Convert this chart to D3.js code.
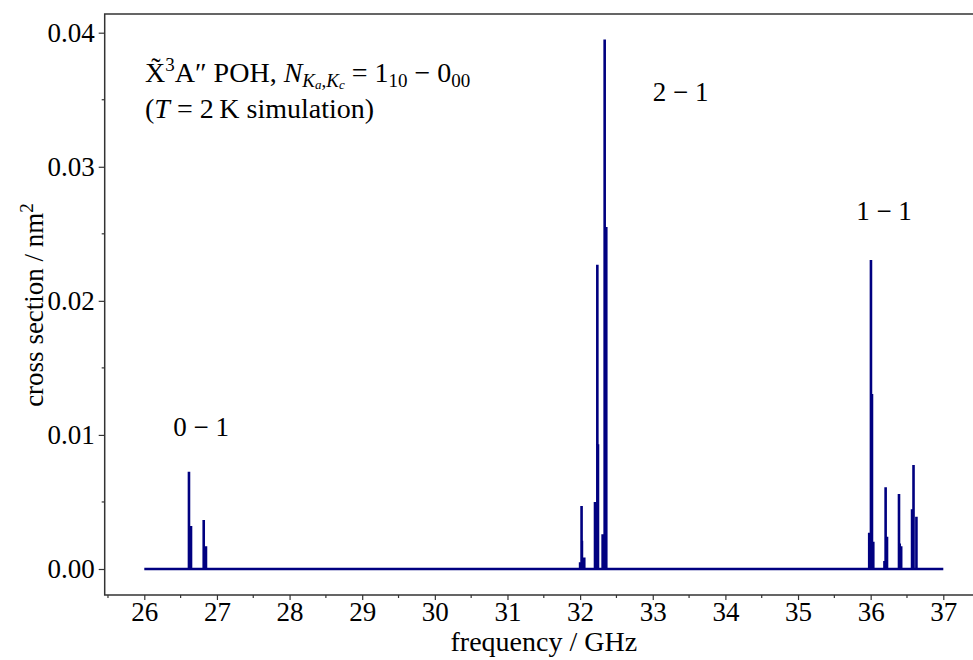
<!DOCTYPE html>
<html>
<head>
<meta charset="utf-8">
<script src="https://cdn.jsdelivr.net/npm/d3@7"></script>
<style>
  body { margin: 0; background: #fff; }
</style>
</head>
<body>
<svg id="chart" width="973" height="660"></svg>
<script>
// stick positions (GHz) and peak cross sections (nm^2)
var freqs = [26.615, 26.643, 26.818, 26.849,
             32.000, 32.020, 32.025, 32.057, 32.205, 32.237, 32.246, 32.310, 32.338, 32.360, 32.515,
             35.980, 36.004, 36.018, 36.036, 36.190, 36.206, 36.225, 36.390, 36.400, 36.420,
             36.570, 36.590, 36.630];
var heights = [0.00726, 0.0032, 0.00365, 0.0017,
               0.0005, 0.0047, 0.0021, 0.00086, 0.0050, 0.0227, 0.0093, 0.0026, 0.0395, 0.0255, 0.0001,
               0.0027, 0.02305, 0.01305, 0.00204, 0.0006, 0.0061, 0.0024, 0.0056, 0.0019, 0.0017,
               0.00445, 0.00776, 0.0039];
var freqRange = [26, 37];
var xTicks = d3.range(26, 38, 1);
var xMinor = d3.range(25.5, 37.5, 1);
var yTicks = [0, 0.01, 0.02, 0.03, 0.04];
var yMinor = [0.005, 0.015, 0.025, 0.035];
var bandLabels = ["0 \u2212 1", "2 \u2212 1", "1 \u2212 1"];
var bandPos = [[26.40, 0.0099], [33.0, 0.0349], [35.8, 0.0260]];

var FONT = "'Liberation Serif'";
var FS = 27, FT = 28, FSS = 19, FSSS = 13;
var svg = d3.select("#chart");
var frameL = 104.7, frameT = 14, frameB = 595, frameR = 975;

var x = d3.scaleLinear().domain([26, 37]).range([144.3, 943.3]);
var y = d3.scaleLinear().domain([0, 0.04]).range([569, 32.7]);

// frame (right edge sits just off the canvas)
svg.append("path")
  .attr("d", "M" + frameR + "," + frameT + "H" + frameL + "V" + frameB + "H" + frameR)
  .attr("fill", "none").attr("stroke", "#333").attr("stroke-width", 1.5);

// spectrum: baseline with sticks
var pts = [[freqRange[0], 0]];
freqs.forEach(function(f, i) {
  pts.push([f, 0], [f, heights[i]], [f, 0]);
});
pts.push([freqRange[1], 0]);
var line = d3.line().x(function(d) { return x(d[0]); }).y(function(d) { return y(d[1]); });
svg.append("path").attr("d", line(pts))
  .attr("fill", "none").attr("stroke", "#000080").attr("stroke-width", 2.6);

// x axis
var xAxis = d3.axisBottom(x).tickValues(xTicks).tickSize(5).tickPadding(2).tickFormat(d3.format("d"));
var gx = svg.append("g").attr("transform", "translate(0," + frameB + ")").call(xAxis);
gx.select(".domain").remove();
gx.selectAll("line").attr("stroke", "#333").attr("stroke-width", 1.2);
gx.selectAll("text").attr("fill", "#000").style("font-family", FONT).style("font-size", FS + "px");
gx.selectAll(".minor").data(xMinor)
  .enter().append("line").attr("class", "minor")
  .attr("x1", function(d) { return x(d); }).attr("x2", function(d) { return x(d); })
  .attr("y1", 0).attr("y2", 3).attr("stroke", "#333").attr("stroke-width", 1.2);

// y axis
var yAxis = d3.axisLeft(y).tickValues(yTicks).tickSize(6).tickPadding(4).tickFormat(d3.format(".2f"));
var gy = svg.append("g").attr("transform", "translate(" + frameL + ",0)").call(yAxis);
gy.select(".domain").remove();
gy.selectAll("line").attr("stroke", "#333").attr("stroke-width", 1.2);
gy.selectAll("text").attr("fill", "#000").style("font-family", FONT).style("font-size", FS + "px");
gy.selectAll(".minor").data(yMinor)
  .enter().append("line").attr("class", "minor")
  .attr("y1", function(d) { return y(d); }).attr("y2", function(d) { return y(d); })
  .attr("x1", 0).attr("x2", -3).attr("stroke", "#333").attr("stroke-width", 1.2);

function txt(sel, size) {
  return sel.append("text").style("font-family", FONT).style("font-size", (size || FS) + "px").attr("fill", "#000");
}

// axis titles
txt(svg, 28).attr("x", x(31.5)).attr("y", 651).attr("text-anchor", "middle").text("frequency / GHz");
var yl = txt(svg).attr("transform", "translate(43,305) rotate(-90)").attr("text-anchor", "middle");
yl.append("tspan").text("cross section / nm");
yl.append("tspan").attr("dy", -10).style("font-size", FSS + "px").text("2");

// band labels
svg.selectAll(".band").data(bandLabels).enter().append("text").attr("class", "band")
  .style("font-family", FONT).style("font-size", FS + "px")
  .attr("x", function(d, i) { return x(bandPos[i][0]); })
  .attr("y", function(d, i) { return y(bandPos[i][1]); })
  .text(function(d) { return d; });

// title
var t1 = txt(svg, FT).attr("x", 145).attr("y", 82);
t1.append("tspan").text("X\u0303");
t1.append("tspan").attr("dy", -11).style("font-size", FSS + "px").text("3");
t1.append("tspan").attr("dy", 11).text("A\u2033 POH, ");
t1.append("tspan").style("font-style", "italic").text("N");
t1.append("tspan").attr("dy", 5).style("font-size", FSS + "px").style("font-style", "italic").text("K");
t1.append("tspan").attr("dy", 2).style("font-size", FSSS + "px").style("font-style", "italic").text("a");
t1.append("tspan").attr("dy", -2).style("font-size", FSS + "px").text(",");
t1.append("tspan").style("font-size", FSS + "px").style("font-style", "italic").text("K");
t1.append("tspan").attr("dy", 2).style("font-size", FSSS + "px").style("font-style", "italic").text("c");
t1.append("tspan").attr("dy", -7).text(" = 1");
t1.append("tspan").attr("dy", 5).style("font-size", FSS + "px").text("10");
t1.append("tspan").attr("dy", -5).text(" \u2212 0");
t1.append("tspan").attr("dy", 5).style("font-size", FSS + "px").text("00");

var t2 = txt(svg, FT).attr("x", 145).attr("y", 118);
t2.append("tspan").text("(");
t2.append("tspan").style("font-style", "italic").text("T");
t2.append("tspan").text(" = 2\u2009K simulation)");
</script>
</body>
</html>
